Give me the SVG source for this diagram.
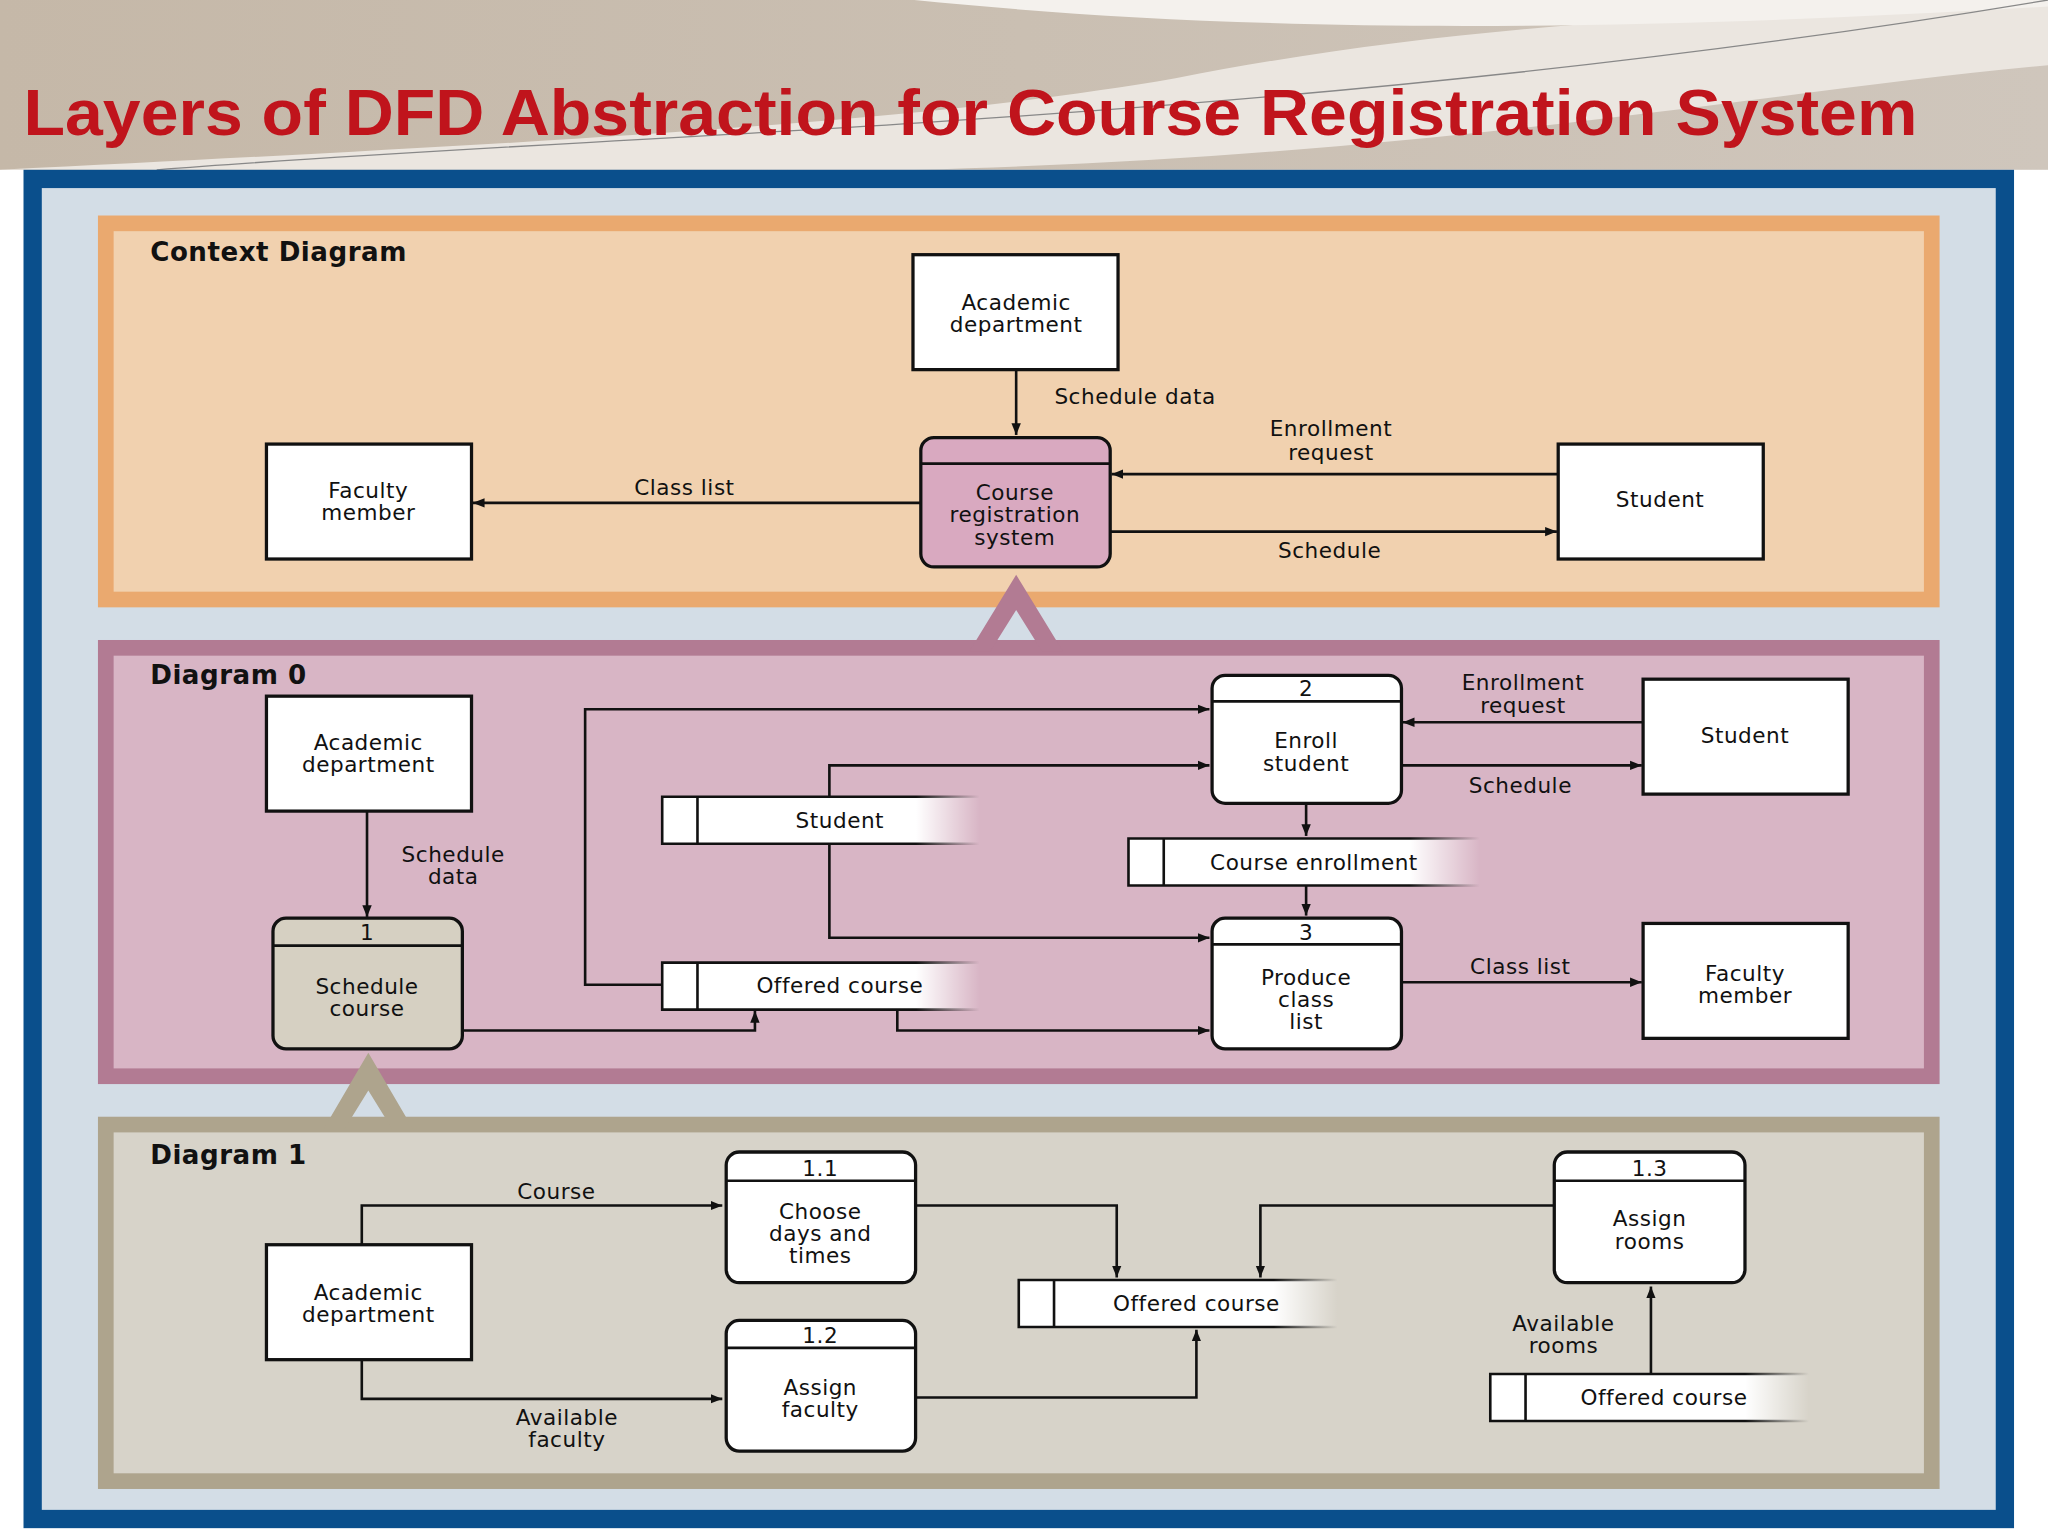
<svg xmlns="http://www.w3.org/2000/svg" width="2048" height="1536" viewBox="0 0 2048 1536">
<style>
text{font-family:"DejaVu Sans","Liberation Sans",sans-serif;font-size:16.5px;letter-spacing:0.4px;fill:#111;text-anchor:middle}
.h{font-weight:bold;font-size:20px;text-anchor:start}
.ent{fill:#fff;stroke:#111;stroke-width:2.5}
.proc{fill:#fff;stroke:#111;stroke-width:2.5}
.ln{fill:none;stroke:#111;stroke-width:2}
.fl{fill:none;stroke:#111;stroke-width:2;marker-end:url(#ah)}
</style>
<defs>
<marker id="ah" viewBox="0 0 10 10" refX="10" refY="5" markerWidth="9" markerHeight="9" markerUnits="userSpaceOnUse" orient="auto"><path d="M0,1 L10,5 L0,9 z" fill="#111"/></marker>
<linearGradient id="fade" x1="0" x2="1" y1="0" y2="0"><stop offset="0.8" stop-color="#fff"/><stop offset="1" stop-color="#fff" stop-opacity="0"/></linearGradient>
<linearGradient id="fadeS" x1="0" x2="1" y1="0" y2="0"><stop offset="0.8" stop-color="#111"/><stop offset="1" stop-color="#111" stop-opacity="0"/></linearGradient>
<linearGradient id="hdr" x1="0" x2="1"><stop offset="0" stop-color="#c5b8a8"/><stop offset="1" stop-color="#cfc6bc"/></linearGradient>
</defs>
<g transform="scale(1.30612)">
<rect width="1568" height="1176" fill="#fff"/>
<g id="header">
<rect x="0" y="0" width="1568" height="130" fill="url(#hdr)"/>
<path d="M0,130 C400,110 700,95 900,60 C1100,20 1300,10 1568,0 L1568,50 C1350,70 1100,120 700,130 Z" fill="#ebe6e0"/>
<path d="M700,0 C900,20 1150,30 1568,5 L1568,0 Z" fill="#f4f1ed"/>
<path d="M120,130 C500,100 1000,95 1568,0" fill="none" stroke="#888" stroke-width="1"/>
<text x="18" y="103" textLength="1450" lengthAdjust="spacingAndGlyphs" style="font-family:'Liberation Sans',sans-serif;font-size:50px;font-weight:bold;fill:#c0141c;text-anchor:start;letter-spacing:0">Layers of DFD Abstraction for Course Registration System</text>
</g>
<rect x="25" y="137" width="1510" height="1026" fill="#d3dde6" stroke="#0a4f8c" stroke-width="14"/>
<g id="panels">
<rect x="81" y="171" width="1398" height="288" fill="#f1d1af" stroke="#eaa96f" stroke-width="12"/>
<rect x="81" y="496" width="1398" height="328" fill="#d8b5c5" stroke="#b27b93" stroke-width="12"/>
<rect x="81" y="861" width="1398" height="273" fill="#d7d3c9" stroke="#aea48d" stroke-width="12"/>
<polygon points="742,499 778,440 814,499 798,499 778,467 758,499" fill="#b27b93"/>
<polygon points="248,864 282,806 316,864 300,864 282,835 264,864" fill="#aea48d"/>
<text class="h" x="115" y="200">Context Diagram</text>
<text class="h" x="115" y="524">Diagram 0</text>
<text class="h" x="115" y="891">Diagram 1</text>
</g>
<g id="connectors">
<path class="fl" d="M778,283 V333"/>
<path class="fl" d="M705,385 H362"/>
<path class="fl" d="M1193,363 H851"/>
<path class="fl" d="M850,407 H1192"/>
<path class="fl" d="M281,621 V702"/>
<path class="fl" d="M1258,553 H1074"/>
<path class="fl" d="M1073,586 H1257"/>
<path class="fl" d="M1000,615 V640"/>
<path class="fl" d="M1000,678 V701"/>
<path class="fl" d="M635,646 V718 H926"/>
<path class="fl" d="M635,610 V586 H926"/>
<path class="fl" d="M507,754 H448 V543 H926"/>
<path class="fl" d="M354,789 H578 V774"/>
<path class="fl" d="M687,773 V789 H926"/>
<path class="fl" d="M1073,752 H1257"/>
<path class="fl" d="M277,953 V923 H553"/>
<path class="fl" d="M277,1041 V1071 H553"/>
<path class="fl" d="M701,923 H855 V978"/>
<path class="fl" d="M1190,923 H965 V978"/>
<path class="fl" d="M701,1070 H916 V1018"/>
<path class="fl" d="M1264,1052 V985"/>
<text x="869" y="309">Schedule data</text>
<text x="524" y="379">Class list</text>
<text x="1019" y="334">Enrollment</text><text x="1019" y="352">request</text>
<text x="1018" y="427">Schedule</text>
<text x="347" y="660">Schedule</text><text x="347" y="677">data</text>
<text x="1166" y="528">Enrollment</text><text x="1166" y="546">request</text>
<text x="1164" y="607">Schedule</text>
<text x="1164" y="746">Class list</text>
<text x="426" y="918">Course</text>
<text x="434" y="1091">Available</text><text x="434" y="1108">faculty</text>
<text x="1197" y="1019">Available</text><text x="1197" y="1036">rooms</text>
</g>
<g id="ctx-academic"><rect class="ent" x="699" y="195" width="157" height="88"/><text x="778" y="237">Academic</text><text x="778" y="254">department</text></g>
<g id="ctx-system"><rect x="705" y="335" width="145" height="99" rx="10" fill="#d9a9c0" stroke="#111" stroke-width="2.5"/><line class="ln" x1="705" y1="355" x2="850" y2="355"/><text x="777" y="383">Course</text><text x="777" y="400">registration</text><text x="777" y="417">system</text></g>
<g id="ctx-faculty"><rect class="ent" x="204" y="340" width="157" height="88"/><text x="282" y="381">Faculty</text><text x="282" y="398">member</text></g>
<g id="ctx-student"><rect class="ent" x="1193" y="340" width="157" height="88"/><text x="1271" y="388">Student</text></g>
<g id="d0-academic"><rect class="ent" x="204" y="533" width="157" height="88"/><text x="282" y="574">Academic</text><text x="282" y="591">department</text></g>
<g id="d0-p1"><rect x="209" y="703" width="145" height="100" rx="10" fill="#d6d0c2" stroke="#111" stroke-width="2.5"/><line class="ln" x1="209" y1="724" x2="354" y2="724"/><text x="281" y="720">1</text><text x="281" y="761">Schedule</text><text x="281" y="778">course</text></g>
<g id="d0-p2"><rect class="proc" x="928" y="517" width="145" height="98" rx="10"/><line class="ln" x1="928" y1="537" x2="1073" y2="537"/><text x="1000" y="533">2</text><text x="1000" y="573">Enroll</text><text x="1000" y="590">student</text></g>
<g id="d0-p3"><rect class="proc" x="928" y="703" width="145" height="100" rx="10"/><line class="ln" x1="928" y1="723" x2="1073" y2="723"/><text x="1000" y="720">3</text><text x="1000" y="754">Produce</text><text x="1000" y="771">class</text><text x="1000" y="788">list</text></g>
<g id="d0-student"><rect class="ent" x="1258" y="520" width="157" height="88"/><text x="1336" y="569">Student</text></g>
<g id="d0-faculty"><rect class="ent" x="1258" y="707" width="157" height="88"/><text x="1336" y="751">Faculty</text><text x="1336" y="768">member</text></g>
<g id="d0-store-enroll"><rect x="864" y="642" width="269" height="36" fill="url(#fade)"/><path d="M1133,642 H864 V678 H1133" fill="none" stroke="url(#fadeS)" stroke-width="2"/><line class="ln" x1="891" y1="642" x2="891" y2="678"/><text x="1006" y="666">Course enrollment</text></g>
<g id="d0-store-student"><rect x="507" y="610" width="243" height="36" fill="url(#fade)"/><path d="M750,610 H507 V646 H750" fill="none" stroke="url(#fadeS)" stroke-width="2"/><line class="ln" x1="534" y1="610" x2="534" y2="646"/><text x="643" y="634">Student</text></g>
<g id="d0-store-offered"><rect x="507" y="737" width="243" height="36" fill="url(#fade)"/><path d="M750,737 H507 V773 H750" fill="none" stroke="url(#fadeS)" stroke-width="2"/><line class="ln" x1="534" y1="737" x2="534" y2="773"/><text x="643" y="760">Offered course</text></g>
<g id="d1-academic"><rect class="ent" x="204" y="953" width="157" height="88"/><text x="282" y="995">Academic</text><text x="282" y="1012">department</text></g>
<g id="d1-p11"><rect class="proc" x="556" y="882" width="145" height="100" rx="10"/><line class="ln" x1="556" y1="904" x2="701" y2="904"/><text x="628" y="900">1.1</text><text x="628" y="933">Choose</text><text x="628" y="950">days and</text><text x="628" y="967">times</text></g>
<g id="d1-p12"><rect class="proc" x="556" y="1011" width="145" height="100" rx="10"/><line class="ln" x1="556" y1="1032" x2="701" y2="1032"/><text x="628" y="1028">1.2</text><text x="628" y="1068">Assign</text><text x="628" y="1085">faculty</text></g>
<g id="d1-p13"><rect class="proc" x="1190" y="882" width="146" height="100" rx="10"/><line class="ln" x1="1190" y1="904" x2="1336" y2="904"/><text x="1263" y="900">1.3</text><text x="1263" y="939">Assign</text><text x="1263" y="956">rooms</text></g>
<g id="d1-store-offered"><rect x="780" y="980" width="244" height="36" fill="url(#fade)"/><path d="M1024,980 H780 V1016 H1024" fill="none" stroke="url(#fadeS)" stroke-width="2"/><line class="ln" x1="807" y1="980" x2="807" y2="1016"/><text x="916" y="1004">Offered course</text></g>
<g id="d1-store-offered2"><rect x="1141" y="1052" width="244" height="36" fill="url(#fade)"/><path d="M1385,1052 H1141 V1088 H1385" fill="none" stroke="url(#fadeS)" stroke-width="2"/><line class="ln" x1="1168" y1="1052" x2="1168" y2="1088"/><text x="1274" y="1076">Offered course</text></g>
</g>
</svg>
